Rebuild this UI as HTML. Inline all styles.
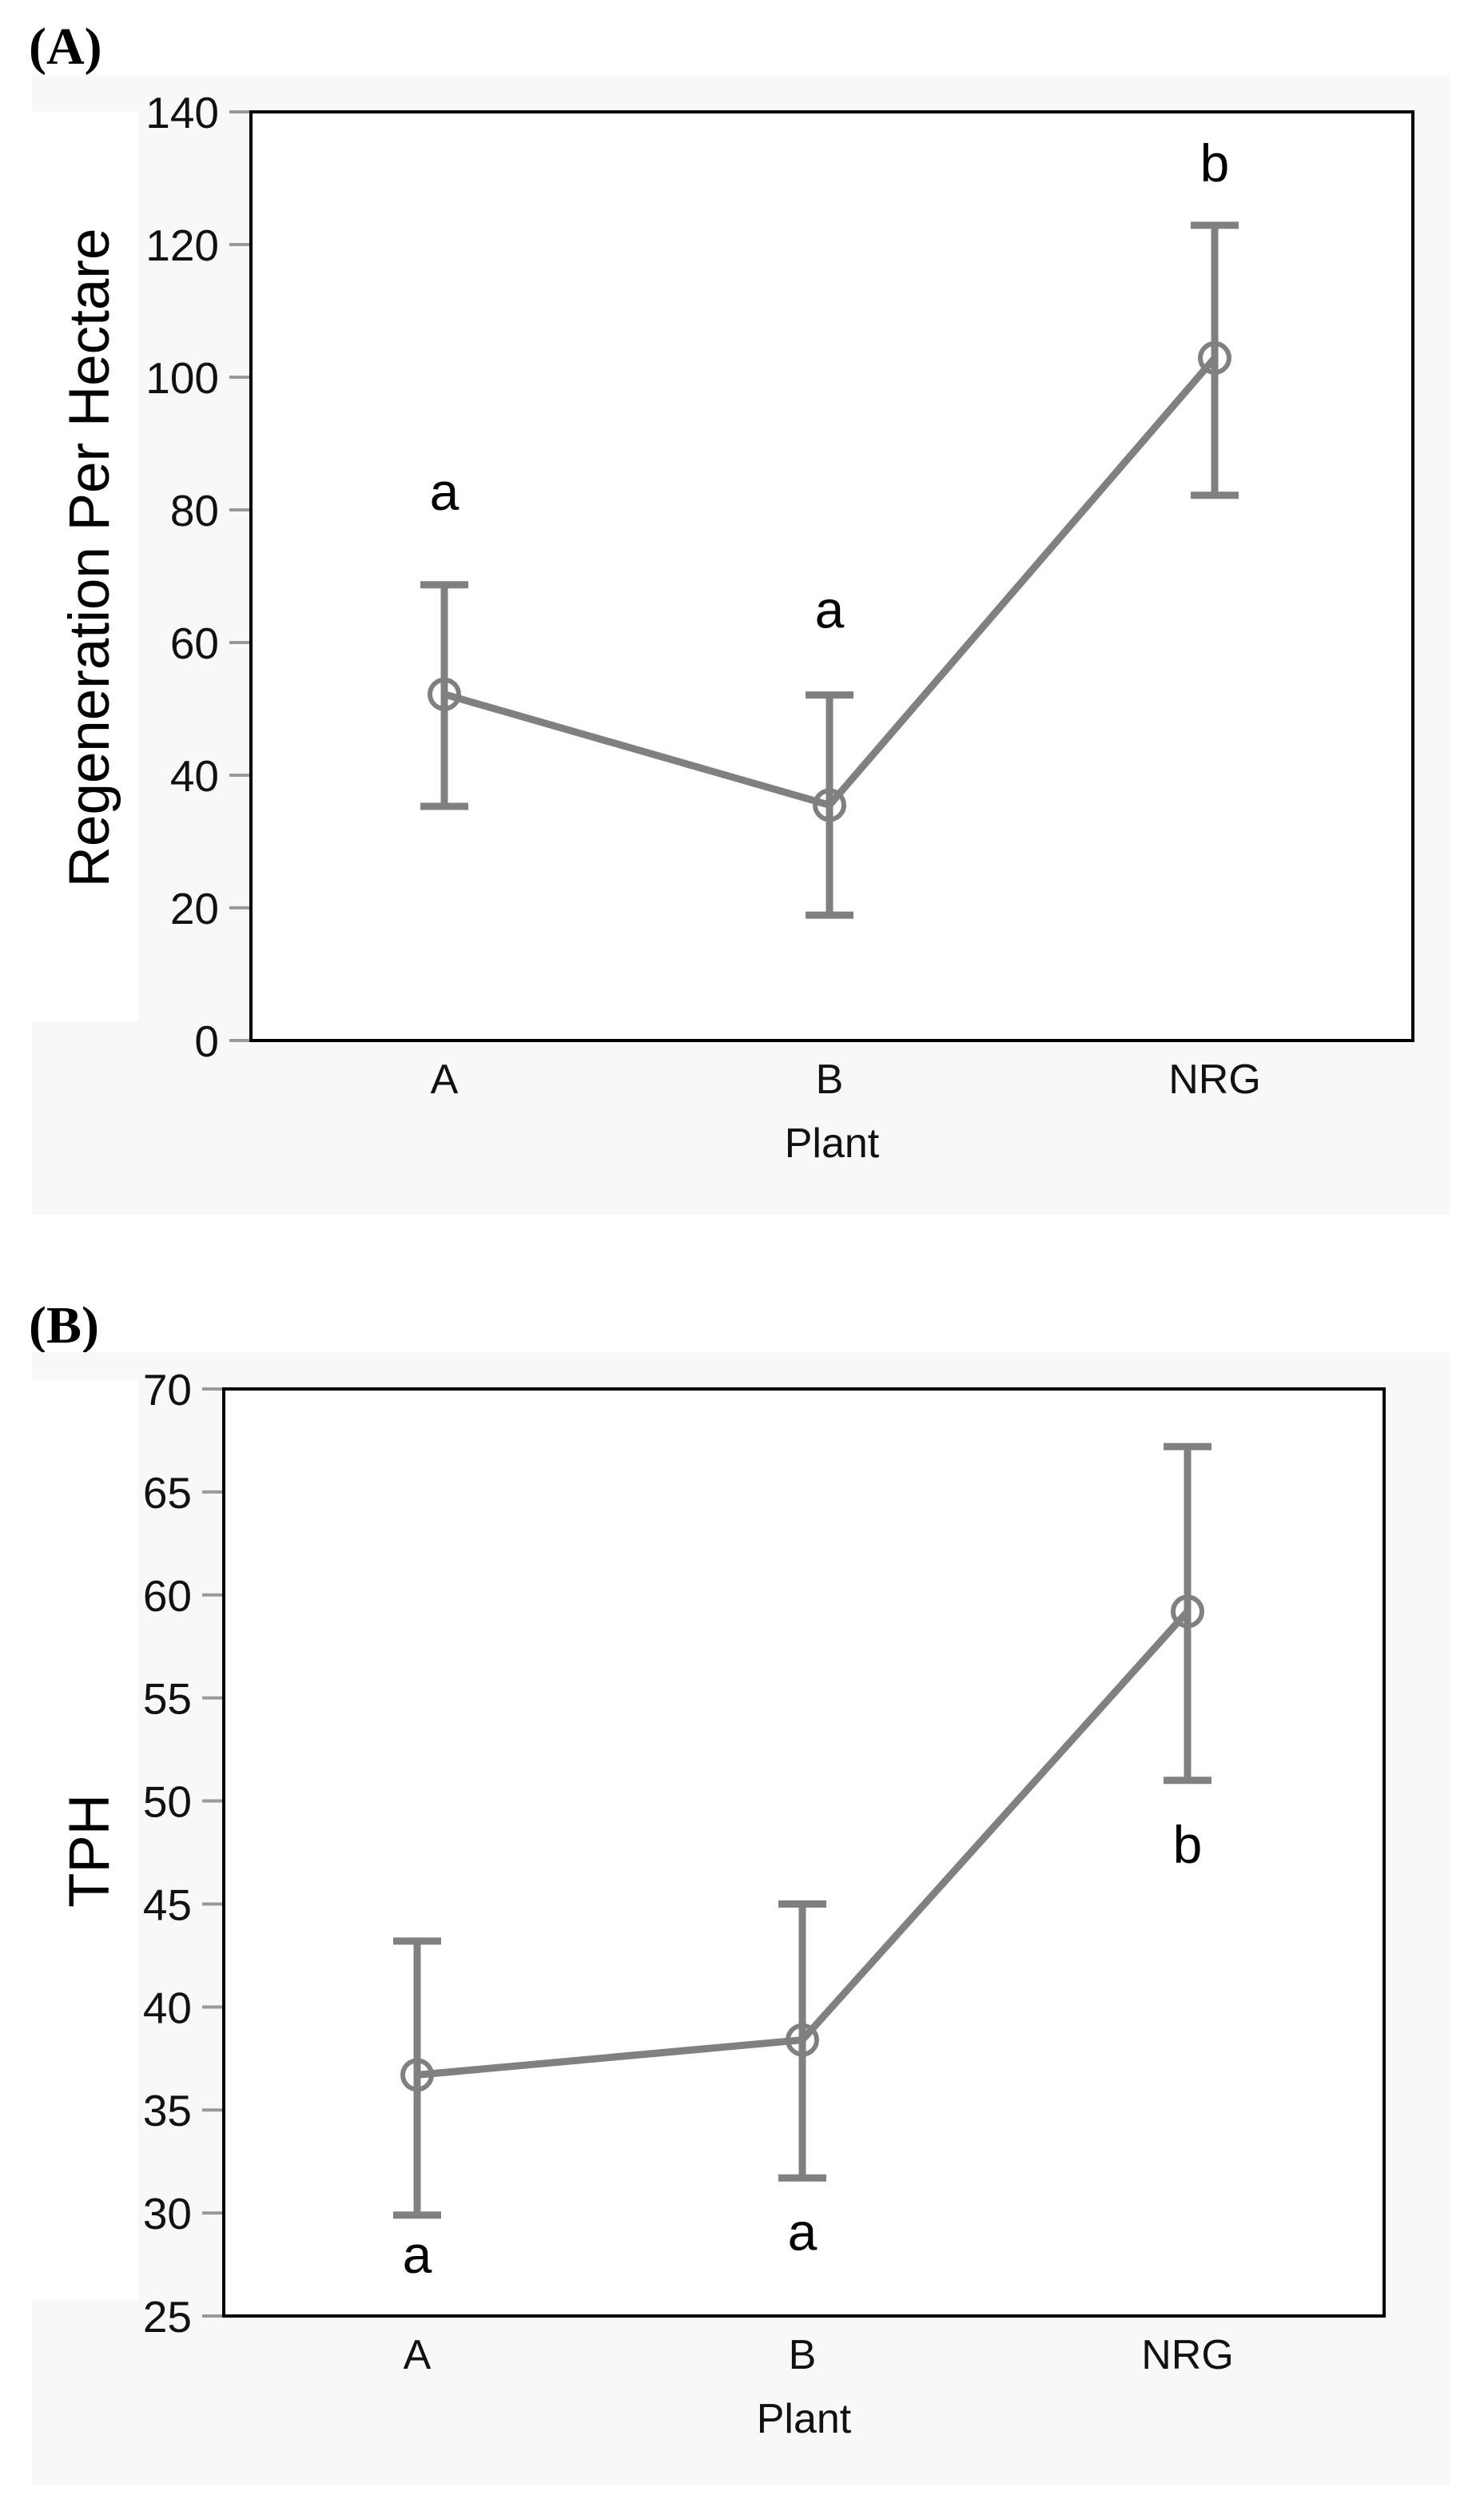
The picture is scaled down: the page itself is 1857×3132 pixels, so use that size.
<!DOCTYPE html>
<html><head><meta charset="utf-8"><style>
html,body{margin:0;padding:0;background:#fff;}
svg{display:block;}
</style></head><body>
<svg id="fig" width="1857" height="3132" viewBox="0 0 1857 3132" xmlns="http://www.w3.org/2000/svg">
<text x="36" y="80" font-family="Liberation Serif, serif" font-weight="bold" font-size="66">(A)</text>
<text x="36" y="1680" font-family="Liberation Serif, serif" font-weight="bold" font-size="66">(B)</text>
</svg>
<script>
// Panel A data
const catsA = ["A","B","NRG"];
const meansA = [52.2, 35.5, 102.9];
const lowA = [35.3, 18.9, 82.2];
const highA = [68.7, 52.1, 122.9];
const lettersA = ["a","a","b"];
const letterValA = [80, 62.2, 129.5];
const ticksA = [0,20,40,60,80,100,120,140];
// Panel B data
const catsB = ["A","B","NRG"];
const meansB = [36.7, 38.4, 59.2];
const lowB = [29.9, 31.7, 51.0];
const highB = [43.2, 45.0, 67.2];
const lettersB = ["a","a","b"];
const letterValB = [27.1, 28.2, 47.0];
const ticksB = [25,30,35,40,45,50,55,60,65,70];

const NS="http://www.w3.org/2000/svg";
const svg=document.getElementById('fig');
function mk(tag,attrs,parent){const e=document.createElementNS(NS,tag);for(const k in attrs)e.setAttribute(k,attrs[k]);(parent||svg).appendChild(e);return e;}

function panel(p){
  const g=mk('g',{});
  
  
  const bg=mk('rect',{x:40,y:p.bgTop,width:1774,height:p.bgH,fill:'#f8f8f8'},g);
  
  
  mk('rect',{x:40,y:p.wTop,width:133,height:p.wH,fill:'#ffffff'},g);
  mk('rect',{x:p.L,y:p.T,width:p.R-p.L,height:p.B-p.T,fill:'#ffffff'},g);
  const ymin=p.ticks[0], ymax=p.ticks[p.ticks.length-1];
  const ys=v=>p.B-(v-ymin)/(ymax-ymin)*(p.B-p.T);
  const xs=i=>p.xpos[0]+i*(p.xpos[1]-p.xpos[0]);
  p.ticks.forEach(t=>{
    const tk=mk('line',{x1:p.L-27,x2:p.L,y1:ys(t),y2:ys(t),stroke:'#999',"stroke-width":4},g);
    
    
    const tl=mk('text',{x:p.L-40,y:ys(t)+20,"text-anchor":"end","font-family":"Liberation Sans, sans-serif","font-size":55,fill:'#111'},g);
    tl.textContent=t;
    
    
  });
  const frame=mk('rect',{x:p.L,y:p.T,width:p.R-p.L,height:p.B-p.T,fill:'none',stroke:'#000',"stroke-width":4},g);
  
  
  p.cats.forEach((c,i)=>{
    const xl=mk('text',{x:xs(i),y:p.B+66,"text-anchor":"middle","font-family":"Liberation Sans, sans-serif","font-size":52,fill:'#111'},g);
    xl.textContent=c;
    
    
  });
  const xt=mk('text',{x:(p.L+p.R)/2,y:p.B+146,"text-anchor":"middle","font-family":"Liberation Sans, sans-serif","font-size":52,fill:'#111'},g);
  xt.textContent='Plant';
  
  
  const yt=mk('text',{x:0,y:0,"text-anchor":"middle","font-family":"Liberation Sans, sans-serif","font-size":71,fill:'#000',transform:`translate(${p.ytX},${p.ytY}) rotate(-90)`},g);
  yt.textContent=p.ytitle;
  
  
  const pts=p.means.map((m,i)=>xs(i)+','+ys(m)).join(' ');
  const ln=mk('polyline',{points:pts,fill:'none',stroke:'#808080',"stroke-width":9},g);
  
  
  p.means.forEach((m,i)=>{
    const x=xs(i);
    const eb=mk('path',{d:`M${x},${ys(p.low[i])}V${ys(p.high[i])}M${x-30},${ys(p.high[i])}H${x+30}M${x-30},${ys(p.low[i])}H${x+30}`,stroke:'#808080',"stroke-width":9,fill:'none'},g);
    
    
    const c=mk('circle',{cx:x,cy:ys(m),r:18,fill:'none',stroke:'#808080',"stroke-width":6},g);
    
    
    const lt=mk('text',{x:x,y:ys(p.letterVal[i]),"text-anchor":"middle","font-family":"Liberation Sans, sans-serif","font-size":66,fill:'#000'},g);
    lt.textContent=p.letters[i];
    
    
  });
}
panel({name:'chart-regeneration',bgTop:95,bgH:1425,wTop:140,wH:1138,L:314,R:1768,T:140,B:1302,xpos:[556,1038],ticks:ticksA,cats:catsA,means:meansA,low:lowA,high:highA,letters:lettersA,letterVal:letterValA,ytitle:'Regeneration Per Hectare',ytX:136,ytY:698});
panel({name:'chart-tph',bgTop:1692,bgH:1418,wTop:1727,wH:1150,L:280,R:1732,T:1738,B:2898,xpos:[522,1004],ticks:ticksB,cats:catsB,means:meansB,low:lowB,high:highB,letters:lettersB,letterVal:letterValB,ytitle:'TPH',ytX:136,ytY:2316});
</script>
</body></html>
